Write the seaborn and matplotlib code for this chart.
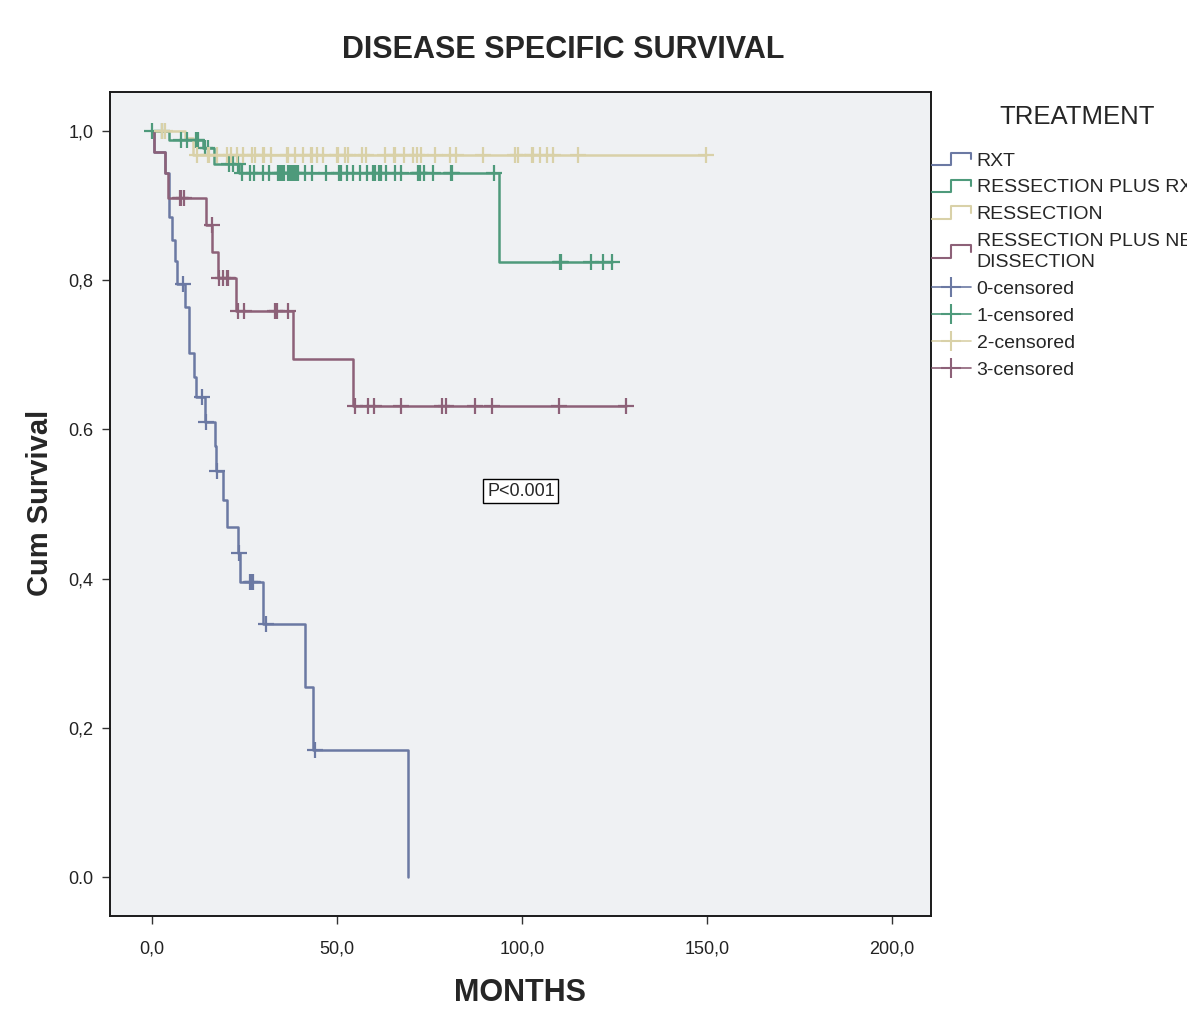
import numpy as np
import pandas as pd
import matplotlib
matplotlib.use("Agg")
import matplotlib.pyplot as plt
from matplotlib.lines import Line2D
from matplotlib.legend_handler import HandlerBase
import seaborn as sns

# Kaplan-Meier steps (months, survival after the drop) and censor times
rxt_times = [0.5, 3.5, 4.6, 5.4, 6.2, 6.8, 8.8, 10.0, 11.4, 11.9, 14.4, 16.9, 17.3, 19.2, 20.3,
             23.2, 23.8, 30.0, 41.4, 43.5, 69.2]
rxt_surv = [0.972, 0.944, 0.885, 0.854, 0.826, 0.795, 0.764, 0.702, 0.670, 0.643, 0.610, 0.578,
            0.544, 0.505, 0.469, 0.434, 0.395, 0.339, 0.255, 0.170, 0.0]
rxt_cens = [8.4, 13.5, 14.6, 17.6, 23.5, 26.6, 27.0, 27.4, 30.8, 44.0]

rxt_plus_times = [4.6, 13.7, 16.8, 23.5, 93.8]
rxt_plus_surv = [0.988, 0.977, 0.955, 0.944, 0.824]
rxt_plus_cens = [0.0, 2.7, 7.8, 9.5, 12.0, 12.3, 14.3, 15.0, 20.8, 21.9, 23.2, 24.3, 26.5, 27.6,
                 30.0, 31.6, 34.1, 34.6, 35.1, 35.7, 36.8, 37.3, 37.8, 38.4, 38.9, 39.5, 41.4,
                 43.2, 47.0, 50.5, 51.0, 52.7, 54.3, 56.2, 58.1, 59.7, 60.2, 61.4, 61.9, 63.2,
                 65.7, 67.3, 71.9, 72.2, 72.5, 73.5, 75.9, 80.8, 81.1, 92.4, 110.3, 110.6,
                 118.6, 121.9, 124.3]

resection_times = [8.9, 11.0]
resection_surv = [0.99, 0.968]
resection_cens = [2.7, 3.5, 12.2, 15.1, 15.4, 17.6, 20.3, 21.4, 23.0, 24.6, 27.0, 27.8, 30.0,
                  30.3, 32.2, 36.5, 36.8, 38.6, 40.8, 43.0, 43.2, 44.6, 46.2, 50.0, 50.3, 52.2,
                  53.0, 56.8, 57.8, 63.0, 65.4, 65.7, 68.1, 70.5, 71.6, 72.7, 76.5, 80.5, 82.2,
                  89.5, 98.1, 98.9, 102.7, 103.0, 104.9, 106.8, 108.4, 115.1, 149.7]

neck_times = [0.5, 3.5, 4.3, 14.6, 16.2, 17.9, 22.7, 38.1, 54.3]
neck_surv = [0.972, 0.944, 0.910, 0.874, 0.838, 0.803, 0.759, 0.694, 0.631]
neck_cens = [7.6, 7.9, 8.6, 16.1, 18.2, 19.2, 20.2, 20.5, 23.2, 24.9, 33.2, 33.8, 36.8, 54.9,
             58.4, 60.0, 67.3, 78.4, 79.5, 87.3, 91.9, 110.0, 128.1]

groups = ["RXT", "RESSECTION PLUS RXT", "RESSECTION", "RESSECTION PLUS NECK\nDISSECTION"]
colors = ["#6b79a3", "#4e9a7b", "#d9d1a8", "#8d6178"]
x_ticks = [0, 50, 100, 150, 200]
x_tick_labels = ["0,0", "50,0", "100,0", "150,0", "200,0"]
y_ticks = [0.0, 0.2, 0.4, 0.6, 0.8, 1.0]
y_tick_labels = ["0.0", "0,2", "0,4", "0.6", "0,8", "1,0"]

curves = [(rxt_times, rxt_surv, rxt_cens),
          (rxt_plus_times, rxt_plus_surv, rxt_plus_cens),
          (resection_times, resection_surv, resection_cens),
          (neck_times, neck_surv, neck_cens)]

# build long tables for the step lines and censor marks
line_rows = []
cens_rows = []
for g, (t, s, c) in zip(groups, curves):
    end = max(t[-1], max(c))
    xs = [0.0] + list(t)
    ys = [1.0] + list(s)
    if end > t[-1]:
        xs.append(end)
        ys.append(s[-1])
    for x, y in zip(xs, ys):
        line_rows.append({"group": g, "month": x, "surv": y})
    for ct in c:
        idx = np.searchsorted(t, ct, side="right")
        level = 1.0 if idx == 0 else s[idx - 1]
        cens_rows.append({"group": g, "month": ct, "surv": level})
lines_df = pd.DataFrame(line_rows)
cens_df = pd.DataFrame(cens_rows)

sns.set_style("ticks")
plt.rcParams["font.family"] = ["Liberation Sans", "DejaVu Sans"]

fig = plt.figure(figsize=(11.87, 10.27), dpi=100)
fig.patch.set_facecolor("white")
ax = fig.add_axes([110 / 1187, 1 - 916 / 1027, 821 / 1187, 824 / 1027])
ax.set_facecolor("#eff1f3")

pal = dict(zip(groups, colors))
sns.lineplot(data=lines_df, x="month", y="surv", hue="group", palette=pal,
             estimator=None, sort=False, drawstyle="steps-post", lw=1.8,
             legend=False, ax=ax)
sns.scatterplot(data=cens_df, x="month", y="surv", hue="group", palette=pal,
                marker="+", s=130, linewidth=1.6, legend=False, ax=ax, zorder=3)

ax.set_xlim(-11.35, 210.5)
ax.set_ylim(-0.052, 1.052)
ax.set_xticks(x_ticks)
ax.set_xticklabels(x_tick_labels)
ax.set_yticks(y_ticks)
ax.set_yticklabels(y_tick_labels)
ax.tick_params(axis="both", length=6, width=1, color="#333333", labelsize=13,
               labelcolor="#222222")
ax.tick_params(axis="x", pad=12)
ax.tick_params(axis="y", pad=6)
for sp in ax.spines.values():
    sp.set_color("#1a1a1a")
    sp.set_linewidth(1.4)
ax.set_xlabel("")
ax.set_ylabel("")

fig.text(563 / 1187, 1 - 50 / 1027, "DISEASE SPECIFIC SURVIVAL", ha="center", va="center",
         fontsize=22, fontweight="bold")
fig.text(520 / 1187, 1 - 993 / 1027, "MONTHS", ha="center", va="center",
         fontsize=22, fontweight="bold")
fig.text(40 / 1187, 1 - 503 / 1027, "Cum Survival", ha="center", va="center",
         rotation=90, fontsize=21, fontweight="bold")

ax.text(99.7, 0.517, "P<0.001", ha="center", va="center", fontsize=13,
        bbox=dict(boxstyle="square,pad=0.2", facecolor="white", edgecolor="black", lw=1))


class StepHandler(HandlerBase):
    def create_artists(self, legend, orig_handle, xdescent, ydescent, width, height,
                       fontsize, trans):
        x0, y0 = -xdescent, -ydescent
        xs = [x0, x0 + 0.5 * width, x0 + 0.5 * width, x0 + width, x0 + width]
        ys = [y0 + 0.05 * height, y0 + 0.05 * height, y0 + 0.95 * height,
              y0 + 0.95 * height, y0 + 0.45 * height]
        ln = Line2D(xs, ys, color=orig_handle.get_color(), lw=1.5, transform=trans)
        return [ln]


step_handles = [Line2D([], [], color=c) for c in colors]
cens_handles = [Line2D([], [], color=c, marker="+", markersize=15, mew=1.5, lw=1.2)
                for c in colors]
handles = step_handles + cens_handles
labels = groups + ["0-censored", "1-censored", "2-censored", "3-censored"]
hmap = {h: StepHandler() for h in step_handles}
leg = fig.legend(handles, labels, handler_map=hmap, loc="upper left",
                 bbox_to_anchor=(928 / 1187, 1 - 148 / 1027), frameon=False,
                 fontsize=14, handlelength=2.0, handletextpad=0.3, labelspacing=0.48,
                 borderaxespad=0, borderpad=0.2)
leg.get_texts()[3].set_linespacing(1.32)
fig.text(1077 / 1187, 1 - 117 / 1027, "TREATMENT", ha="center", va="center", fontsize=18.5)

fig.savefig("out.png", dpi=100)
